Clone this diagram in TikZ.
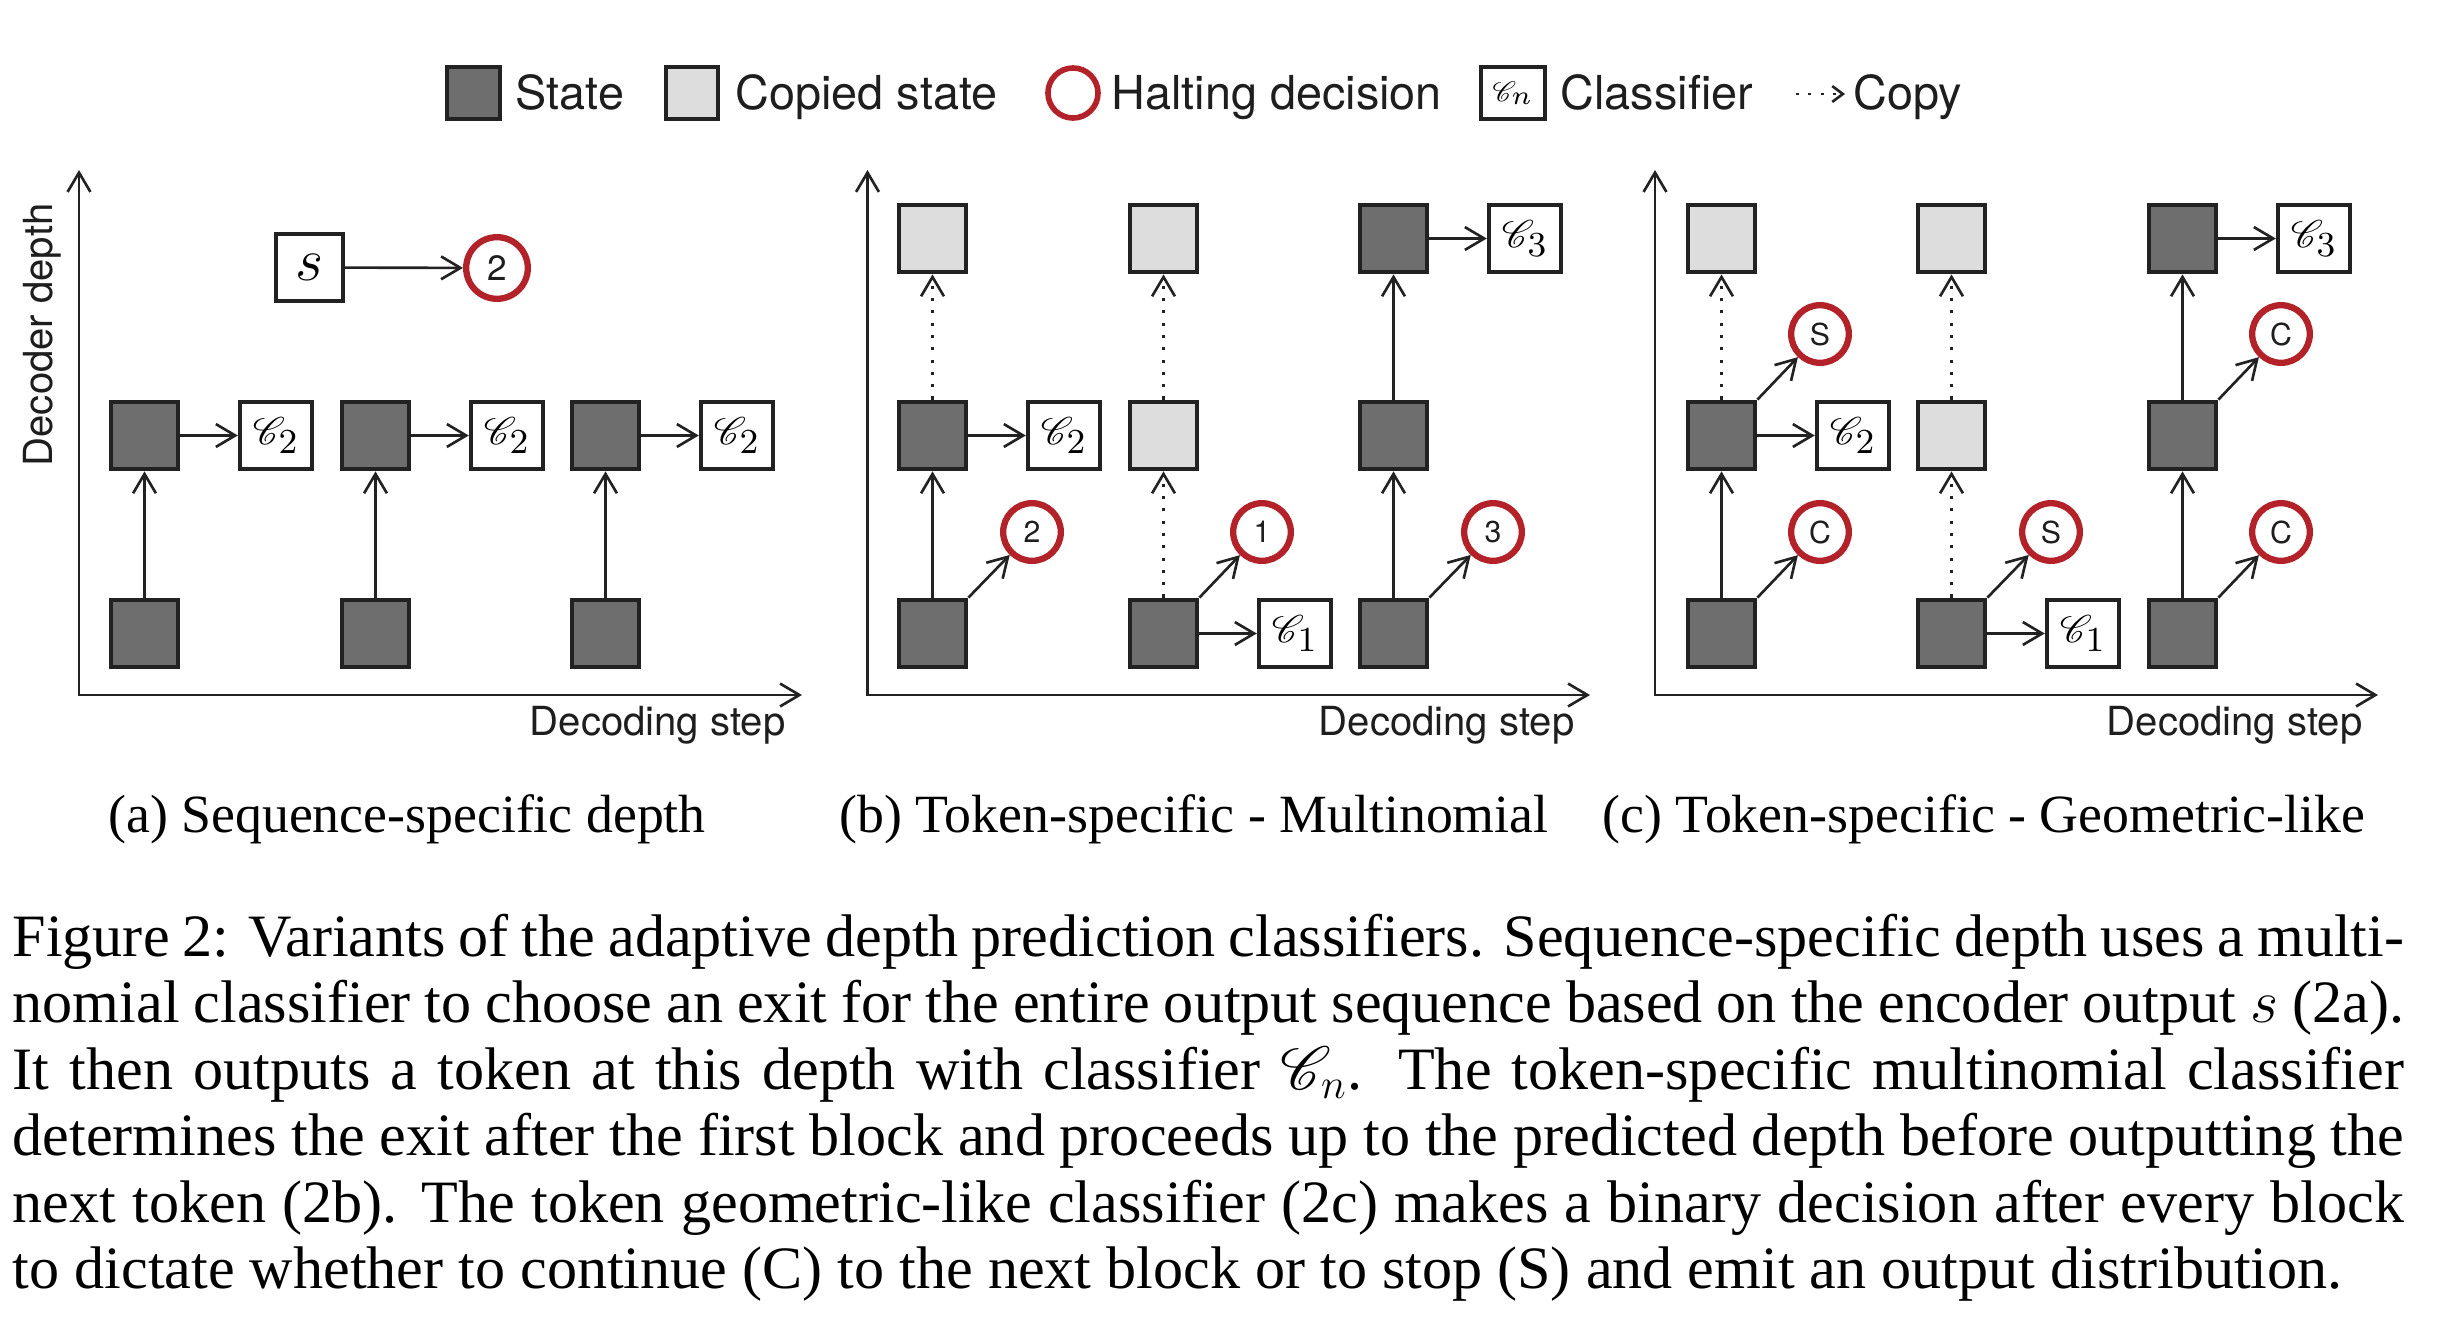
\documentclass[tikz,border=0pt]{standalone}
\usepackage[no-math]{fontspec}
\setmainfont{Liberation Serif}
\setsansfont{TeX Gyre Heros}
\usepackage{mathrsfs}
\usetikzlibrary{arrows.meta}
\definecolor{stateC}{RGB}{110,110,110}
\definecolor{copyC}{RGB}{221,221,221}
\definecolor{lineC}{RGB}{34,34,34}
\definecolor{haltC}{RGB}{178,34,40}
\definecolor{txtC}{RGB}{30,30,30}
\newcommand{\clslabel}[1]{$\mathscr{C}_{\scalebox{1.25}{$\scriptstyle #1$}}$}
\tikzset{
  statebox/.style={draw=lineC, fill=stateC, line width=1.2pt, minimum width=0.675cm, minimum height=0.675cm, inner sep=0pt},
  copybox/.style={statebox, fill=copyC},
  clsbox/.style={draw=lineC, fill=white, line width=1.1pt, minimum width=0.725cm, minimum height=0.675cm, inner sep=0pt, font=\fontsize{11}{13}\selectfont},
  halt/.style={circle, draw=haltC, line width=1.8pt, minimum size=0.576cm, inner sep=0pt, text=txtC, font=\sffamily\fontsize{8.6}{9}\selectfont},
  tipA/.tip={Straight Barb[length=5.5pt,width=6.5pt]},
  conn/.style={draw=lineC, line width=0.75pt, -tipA},
  copyarrow/.style={conn, dash pattern=on 0.9pt off 2.6pt},
  axisline/.style={draw=lineC, line width=0.75pt, tipA-tipA},
  axtext/.style={text=txtC, font=\sffamily\fontsize{11.4}{13}\selectfont, inner sep=0pt},
  legtext/.style={text=txtC, font=\sffamily\fontsize{13.3}{15}\selectfont, inner sep=0pt, anchor=base west},
  subcap/.style={font=\fontsize{15.3}{18}\selectfont, inner sep=0pt, anchor=base},
  capline/.style={font=\fontsize{17.1}{20}\selectfont, inner sep=0pt, anchor=base west},
}
\begin{document}
\begin{tikzpicture}[x=0.01cm, y=-0.01cm]
\fill[white] (0,0) rectangle (2438,1324);
\useasboundingbox (0,0) rectangle (2438,1324);

% ---------------- legend ----------------
\node[statebox, minimum width=0.525cm, minimum height=0.525cm] (lstate) at (473.5,93) {};
\node[legtext] (lstatet) at (515,110) {State};
\node[copybox, minimum width=0.525cm, minimum height=0.525cm] (lcopy) at (692,93) {};
\node[legtext] (lcopyt) at (735,110) {Copied state};
\node[halt, minimum size=0.50cm, line width=1.6pt] (lhalt) at (1073,93) {};
\node[legtext] (lhaltt) at (1111,110) {Halting decision};
\node[clsbox, minimum width=0.64cm, minimum height=0.525cm, font=\fontsize{8.5}{10}\selectfont] (lcls) at (1513,93) {\clslabel{n}};
\node[legtext] (lclst) at (1560,110) {Classifier};
\coordinate (lcp0) at (1796,94);
\coordinate (lcp1) at (1845,94);
\draw[draw=lineC, line width=0.75pt, dash pattern=on 0.9pt off 2.6pt, -{Straight Barb[length=3pt,width=4.5pt]}] (lcp0) -- (lcp1);
\node[legtext] (lcopyw) at (1853,110) {Copy};

% ---------------- panel (a) ----------------
\coordinate (ao) at (79,695);
\coordinate (ayt) at (79,170);
\coordinate (axt) at (802,695);
\draw[axisline] (ayt) -- (ao) -- (axt);
\node[axtext, anchor=base east] (axl) at (786,735) {Decoding step};
\node[axtext, rotate=90, anchor=base] (ayl) at (52.5,335) {Decoder depth};

\node[draw=lineC, fill=white, line width=1.1pt, minimum width=0.675cm, minimum height=0.675cm, inner sep=0pt, font=\fontsize{19}{20}\selectfont] (as) at (309.5,267.5) {$s$};
\node[halt, minimum size=0.616cm, font=\sffamily\fontsize{10}{11}\selectfont] (ah) at (497,268) {2};
\draw[conn] (as) -- (ah);

\foreach \i/\x/\cx in {1/144.5/276, 2/375.5/507, 3/605.5/737}{
  \node[statebox] (ab\i) at (\x,633.5) {};
  \node[statebox] (am\i) at (\x,435.5) {};
  \node[clsbox] (ac\i) at (\cx,435.5) {\clslabel{2}};
  \draw[conn] (ab\i) -- (am\i);
  \draw[conn] (am\i) -- (ac\i);
}

% ---------------- panel (b) ----------------
\coordinate (bo) at (867.5,695);
\coordinate (byt) at (867.5,170);
\coordinate (bxt) at (1590,695);
\draw[axisline] (byt) -- (bo) -- (bxt);
\node[axtext, anchor=base east] (bxl) at (1575,735) {Decoding step};

% column 1
\node[statebox] (bb1) at (932.5,633.5) {};
\node[statebox] (bm1) at (932.5,435.5) {};
\node[copybox] (bt1) at (932.5,238.5) {};
\node[clsbox] (bc1) at (1064,435.5) {\clslabel{2}};
\node[halt] (bh1) at (1032,532) {2};
\draw[conn] (bb1) -- (bm1);
\draw[conn] (bm1) -- (bc1);
\draw[copyarrow] (bm1) -- (bt1);
\draw[conn] (bb1.north east) -- (bh1);
% column 2
\node[statebox] (bb2) at (1163.5,633.5) {};
\node[copybox] (bm2) at (1163.5,435.5) {};
\node[copybox] (bt2) at (1163.5,238.5) {};
\node[clsbox] (bc2) at (1295,633.5) {\clslabel{1}};
\node[halt] (bh2) at (1262,532) {1};
\draw[conn] (bb2) -- (bc2);
\draw[copyarrow] (bb2) -- (bm2);
\draw[copyarrow] (bm2) -- (bt2);
\draw[conn] (bb2.north east) -- (bh2);
% column 3
\node[statebox] (bb3) at (1393.5,633.5) {};
\node[statebox] (bm3) at (1393.5,435.5) {};
\node[statebox] (bt3) at (1393.5,238.5) {};
\node[clsbox] (bc3) at (1525,238.5) {\clslabel{3}};
\node[halt] (bh3) at (1493,532) {3};
\draw[conn] (bb3) -- (bm3);
\draw[conn] (bm3) -- (bt3);
\draw[conn] (bt3) -- (bc3);
\draw[conn] (bb3.north east) -- (bh3);

% ---------------- panel (c) ----------------
\coordinate (co) at (1655,695);
\coordinate (cyt) at (1655,170);
\coordinate (cxt) at (2378,695);
\draw[axisline] (cyt) -- (co) -- (cxt);
\node[axtext, anchor=base east] (cxl) at (2363,735) {Decoding step};

% column 1
\node[statebox] (cb1) at (1721.5,633.5) {};
\node[statebox] (cm1) at (1721.5,435.5) {};
\node[copybox] (ct1) at (1721.5,238.5) {};
\node[clsbox] (cc1) at (1853,435.5) {\clslabel{2}};
\node[halt] (chl1) at (1820,532) {C};
\node[halt] (chu1) at (1820,334) {S};
\draw[conn] (cb1) -- (cm1);
\draw[conn] (cm1) -- (cc1);
\draw[copyarrow] (cm1) -- (ct1);
\draw[conn] (cb1.north east) -- (chl1);
\draw[conn] (cm1.north east) -- (chu1);
% column 2
\node[statebox] (cb2) at (1951.5,633.5) {};
\node[copybox] (cm2) at (1951.5,435.5) {};
\node[copybox] (ct2) at (1951.5,238.5) {};
\node[clsbox] (cc2) at (2083,633.5) {\clslabel{1}};
\node[halt] (chl2) at (2051,532) {S};
\draw[conn] (cb2) -- (cc2);
\draw[copyarrow] (cb2) -- (cm2);
\draw[copyarrow] (cm2) -- (ct2);
\draw[conn] (cb2.north east) -- (chl2);
% column 3
\node[statebox] (cb3) at (2182.5,633.5) {};
\node[statebox] (cm3) at (2182.5,435.5) {};
\node[statebox] (ct3) at (2182.5,238.5) {};
\node[clsbox] (cc3) at (2314,238.5) {\clslabel{3}};
\node[halt] (chl3) at (2281,532) {C};
\node[halt] (chu3) at (2281,334) {C};
\draw[conn] (cb3) -- (cm3);
\draw[conn] (cm3) -- (ct3);
\draw[conn] (ct3) -- (cc3);
\draw[conn] (cb3.north east) -- (chl3);
\draw[conn] (cm3.north east) -- (chu3);

% ---------------- sub-captions ----------------
\node[subcap] (capa) at (407,832) {(a) Sequence-specific depth};
\node[subcap] (capb) at (1194,832) {(b) Token-specific - Multinomial};
\node[subcap] (capc) at (1984,832) {(c) Token-specific - Geometric-like};

% ---------------- caption ----------------
\node[capline] (cl1) at (12,956) {\makebox[23.9cm][s]{Figure 2: Variants of the adaptive depth prediction classifiers. Sequence-specific depth uses a multi-}};
\node[capline] (cl2) at (12,1022.5) {\makebox[23.9cm][s]{nomial classifier to choose an exit for the entire output sequence based on the encoder output $s$ (2a).}};
\node[capline] (cl3) at (12,1089) {\makebox[23.9cm][s]{It then outputs a token at this depth with classifier $\smash{\mathscr{C}_n}$. The token-specific multinomial classifier}};
\node[capline] (cl4) at (12,1155.5) {\makebox[23.9cm][s]{determines the exit after the first block and proceeds up to the predicted depth before outputting the}};
\node[capline] (cl5) at (12,1222) {\makebox[23.9cm][s]{next token (2b). The token geometric-like classifier (2c) makes a binary decision after every block}};
\node[capline] (cl6) at (12,1288.5) {to dictate whether to continue (C) to the next block or to stop (S) and emit an output distribution.};
\end{tikzpicture}
\end{document}
